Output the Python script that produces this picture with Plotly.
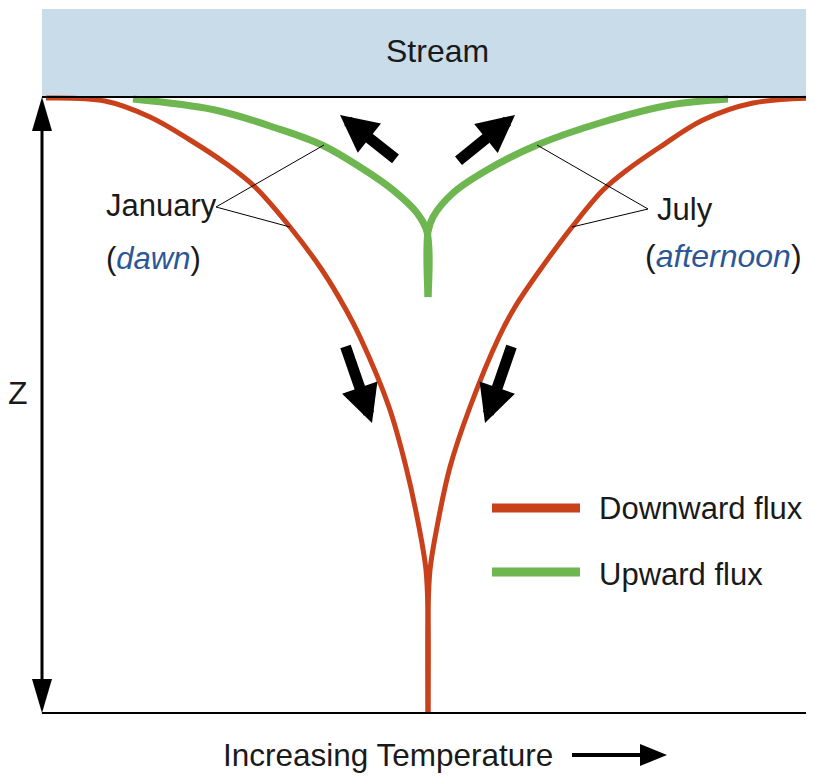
import plotly.graph_objects as go

# ---- schematic data (in pixel units; z grows downward) ----
jan_down_z = [98, 101, 117, 140, 163, 187, 227, 270, 308, 337, 407, 467, 527, 570, 615, 713]
jan_down_T = [46, 105, 150, 190, 225, 255, 290, 322, 345, 360, 389, 406, 419, 426, 428, 428]

jul_down_z = [98, 103, 120, 147, 170, 190, 227, 270, 307, 337, 407, 467, 527, 570, 615, 713]
jul_down_T = [812, 753, 703, 660, 627, 603, 572, 540, 515, 499, 470, 450, 437, 430, 428, 428]

jan_up_z = [99, 110, 128, 145, 167, 190, 213, 232, 297]
jan_up_T = [133, 215, 276, 322, 360, 393, 417, 427, 428]

jul_up_z = [99, 105, 122, 145, 170, 193, 217, 232, 297]
jul_up_T = [728, 670, 603, 537, 487, 453, 433, 428, 428]

RED = "#c9411b"
GREEN = "#6db650"
BLUE = "#2b5797"
INK = "#1a1a1a"
FONT = "Liberation Sans, Arial, sans-serif"

fig = go.Figure()

for T, z in ((jan_down_T, jan_down_z), (jul_down_T, jul_down_z)):
    fig.add_trace(go.Scatter(x=T, y=z, mode="lines",
                             line=dict(color=RED, width=5, shape="spline", smoothing=1.0),
                             showlegend=False, hoverinfo="skip"))
for T, z in ((jan_up_T, jan_up_z), (jul_up_T, jul_up_z)):
    fig.add_trace(go.Scatter(x=T, y=z, mode="lines",
                             line=dict(color=GREEN, width=7, shape="spline", smoothing=1.0),
                             showlegend=False, hoverinfo="skip"))

shapes = []
# stream band
shapes.append(dict(type="rect", x0=42, x1=814, y0=9, y1=97,
                   fillcolor="#c9dcea", line=dict(width=0), layer="below"))
# top and bottom lines
shapes.append(dict(type="line", x0=42, x1=814, y0=97, y1=97, line=dict(color="black", width=2)))
shapes.append(dict(type="line", x0=42, x1=814, y0=713, y1=713, line=dict(color="black", width=2)))
# vertical z arrow
shapes.append(dict(type="line", x0=42, x1=42, y0=125, y1=685, line=dict(color="black", width=3)))
shapes.append(dict(type="path", path="M 42 97 L 32 131 L 52 131 Z", fillcolor="black", line=dict(width=0)))
shapes.append(dict(type="path", path="M 42 713 L 32 679 L 52 679 Z", fillcolor="black", line=dict(width=0)))
# temperature arrow
shapes.append(dict(type="line", x0=572, x1=645, y0=755, y1=755, line=dict(color="black", width=4)))
shapes.append(dict(type="path", path="M 667 755 L 640 744 L 640 766 Z", fillcolor="black", line=dict(width=0)))
# leader lines
for (x0, y0, x1, y1) in [(216, 207, 324, 145), (216, 207, 290, 227),
                         (648, 209, 537, 145), (648, 209, 572, 227)]:
    shapes.append(dict(type="line", x0=x0, y0=y0, x1=x1, y1=y1, line=dict(color="black", width=1)))
# legend keys
shapes.append(dict(type="line", x0=492, x1=580, y0=508, y1=508, line=dict(color=RED, width=9)))
shapes.append(dict(type="line", x0=492, x1=580, y0=572, y1=572, line=dict(color=GREEN, width=9)))

for s in shapes:
    s["xref"] = "x"
    s["yref"] = "y"

ann = []
def txt(x, y, t, xanchor="left", size=31):
    ann.append(dict(x=x, y=y, text=t, showarrow=False, xanchor=xanchor, yanchor="middle",
                    font=dict(family=FONT, size=size, color=INK), xref="x", yref="y"))

txt(437, 51, "Stream", "center", 32)
txt(104, 205, "January")
txt(104, 258, f"(<i><span style='color:{BLUE}'>dawn</span></i>)")
txt(655, 209, "July")
txt(643, 256, f"(<i><span style='color:{BLUE}'>afternoon</span></i>)", "left", 32)
txt(18, 393, "Z", "center", 32)
txt(597, 508, "Downward flux")
txt(597, 574, "Upward flux")
txt(388, 755, "Increasing Temperature", "center", 31.5)

# flux arrows
for (tx, ty, hx, hy) in [(397, 160, 340, 115), (457, 162, 515, 115),
                         (345, 345, 372, 423), (512, 345, 485, 423)]:
    ann.append(dict(x=hx, y=hy, ax=tx, ay=ty, xref="x", yref="y", axref="x", ayref="y",
                    showarrow=True, arrowhead=2, arrowsize=0.68, arrowwidth=11,
                    arrowcolor="black", text=""))

# the page places the figure 8px in from the top-left corner
fig.update_layout(
    width=806, height=774,
    margin=dict(l=0, r=0, t=0, b=0),
    paper_bgcolor="white", plot_bgcolor="white",
    xaxis=dict(range=[8, 814], visible=False, fixedrange=True),
    yaxis=dict(range=[782, 8], visible=False, fixedrange=True),
    shapes=shapes, annotations=ann,
)

fig.write_html("out.html")
